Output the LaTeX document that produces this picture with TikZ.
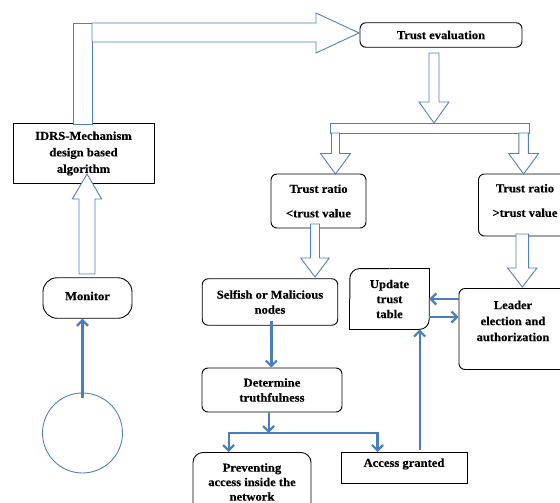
\documentclass[tikz,border=0pt]{standalone}
\usepackage{fontspec}
\setmainfont{Liberation Serif}[FakeStretch=1.05, BoldFeatures={FakeBold=0.4}]
\usetikzlibrary{arrows.meta,calc}
\definecolor{arrblue}{RGB}{79,129,189}
\definecolor{lineblue}{RGB}{74,126,187}
\newcommand\blockshape[6]{\draw[blockarrow] (#1-#5,#2) -- (#1-#5,#3) -- (#1-#6,#3) -- (#1,#4) -- (#1+#6,#3) -- (#1+#5,#3) -- (#1+#5,#2) -- cycle;}
\begin{document}
\begin{tikzpicture}[x=1pt,y=-1pt,
  every node/.style={font=\fontsize{12}{15}\selectfont\bfseries, align=center, inner sep=0pt},
  box/.style={draw=black, line width=0.9pt, fill=white},
  rbox/.style={box, rounded corners=6pt},
  txt/.style={},
  blockarrow/.style={draw=arrblue, line width=0.9pt, fill=white, line join=miter},
  flowline/.style={draw=lineblue, line width=2.2pt},
  flow/.style={flowline, -{Straight Barb[length=5.5pt,width=11pt]}},
]
\useasboundingbox (0,0) rectangle (560,503);
\clip (0,0) rectangle (560,503);

% nodes
\node[box, minimum width=141pt, minimum height=60pt, font=\fontsize{12}{16.5}\selectfont\bfseries] (idrs) at (83.5,153.5) {IDRS-Mechanism\\design based\\algorithm};
\node[rbox, minimum width=162pt, minimum height=24.5pt] (teval) at (441,35) {Trust evaluation};
\node[rbox, minimum width=95pt, minimum height=54pt] (trl) at (318.5,201) {Trust ratio\\[9.5pt]<trust value};
\node[rbox, minimum width=93pt, minimum height=62pt] (trr) at (525,205) {};
\node[txt] (trrtxt) at (525,200.5) {Trust ratio\\[9.5pt]>trust value};
\node[box, rounded corners=14pt, minimum width=89pt, minimum height=40.5pt] (mon) at (87.5,298) {};
\node[txt] (montxt) at (87.5,296) {Monitor};
\node[draw=arrblue, line width=0.9pt, circle, minimum size=80pt] (circ) at (82.5,433) {};
\node[rbox, minimum width=135.5pt, minimum height=46.5pt] (sel) at (270,302) {Selfish or Malicious\\nodes};
\node[rbox, minimum width=140pt, minimum height=44pt] (det) at (272,390) {Determine\\truthfulness};
\node[box, rounded corners=10pt, minimum width=118pt, minimum height=68pt] (prev) at (252,486.5) {};
\node[txt, font=\fontsize{12}{14.5}\selectfont\bfseries] (prevtxt) at (252,482) {Preventing\\access inside the\\network};
\node[box, minimum width=126pt, minimum height=31.5pt] (acc) at (404,468) {};
\node[txt] (acctxt) at (404,464) {Access granted};
\node[minimum width=79pt, minimum height=60.5pt] (upd) at (389.5,299) {Update\\trust\\table};
\draw[line width=0.9pt, rounded corners=10pt] (upd.west) -- (upd.north west) -- (upd.north);
\draw[line width=0.9pt] (upd.north) -- (upd.north east) -- (upd.east);
\draw[line width=0.9pt, rounded corners=10pt] (upd.east) -- (upd.south east) -- (upd.south);
\draw[line width=0.9pt] (upd.south) -- (upd.south west) -- (upd.west);
\node[rbox, minimum width=108pt, minimum height=81pt] (leader) at (513,329) {};
\node[txt, font=\fontsize{12}{16}\selectfont\bfseries] (leadertxt) at (513,321) {Leader\\election and\\authorization};

% block arrows
\draw[blockarrow] (73,124) rectangle (92,23);
\draw[blockarrow] (92,23) -- (316,23) -- (316,13) -- (359,33) -- (316,53) -- (316,42) -- (92,42) -- cycle;
\blockshape{434}{53}{102}{123}{5}{15}
\draw[blockarrow] (330,123) rectangle (529,133);
\blockshape{335.5}{133}{153.5}{174}{4}{15}
\blockshape{523.6}{133}{153.5}{174}{4.7}{15}
\blockshape{315}{224}{258}{277}{4.5}{14.3}
\blockshape{522.3}{234}{268}{287}{6.3}{14.7}
\blockshape{87}{274}{199}{174}{8}{14.7}

% thin arrows
\draw[flow] ([yshift=-5pt]circ.north) -- (circ.north |- mon.south);
\draw[flow] ([xshift=1.4pt,yshift=5pt]sel.south) -- ([xshift=1.4pt]sel.south |- det.north);
\coordinate (jm) at (268.6,433);
\draw[flow] (det.south -| jm) -- (jm);
\draw[flow, line join=miter] (jm) -| (228.6,452);
\draw[flow, line join=miter] (jm) -| (377.5,452);
\coordinate (ua) at (419.6,0);
\draw[flow] ([yshift=2pt]acc.north -| ua) -- (upd.south -| ua);
\draw[flow] (leader.west |- 0,299) -- (upd.east |- 0,299);
\draw[flow] (upd.east |- 0,317) -- (leader.west |- 0,317);
\end{tikzpicture}
\end{document}
